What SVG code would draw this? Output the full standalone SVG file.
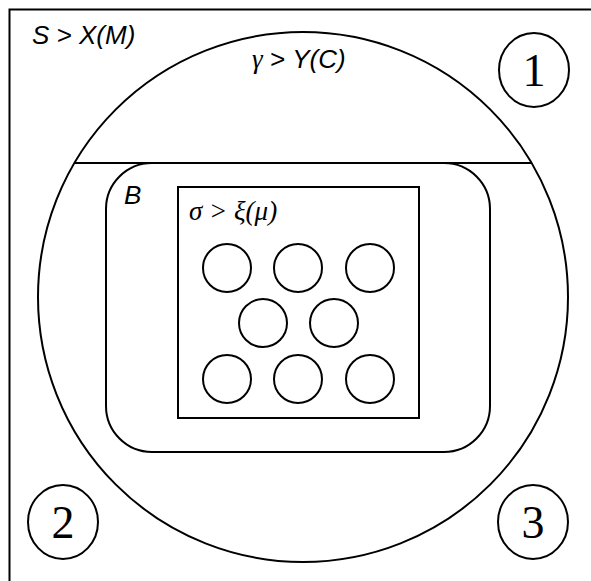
<svg xmlns="http://www.w3.org/2000/svg" width="591" height="581" viewBox="0 0 591 581">
<style>
.s{fill:none;stroke:#000;stroke-width:2}
.sans{font-family:"Liberation Sans",Arial,sans-serif;font-style:italic;font-size:26px;fill:#000}
.serif{font-family:"Liberation Serif","Times New Roman",serif;font-style:italic;font-size:27px;fill:#000}
.num{font-family:"Liberation Serif","Times New Roman",serif;font-size:46px;fill:#000;text-anchor:middle}
</style>
<rect width="591" height="581" fill="#fff"/>
<g id="frame">
<rect class="s" x="9.5" y="9.5" width="620" height="620"/>
<text class="sans" x="32" y="44">S &gt; X(M)</text>
</g>
<g id="world">
<circle class="s" cx="303" cy="297" r="265"/>
<line class="s" x1="74" y1="163" x2="532" y2="163"/>
<text x="252" y="68"><tspan class="serif">γ</tspan><tspan class="sans"> &gt; Y(C)</tspan></text>
</g>
<g id="B">
<path class="s" d="M152,163 H444 A46,46 0 0 1 490,209 V406 A46,46 0 0 1 444,452 H152 A46,46 0 0 1 106,406 V209 A46,46 0 0 1 152,163 Z"/>
<text class="sans" x="124" y="204">B</text>
</g>
<g id="sigma">
<rect class="s" x="178" y="187" width="241" height="231"/>
<text class="serif" x="189" y="220">σ &gt; ξ(μ)</text>
</g>
<g id="particles">
<circle class="s" cx="227" cy="268" r="24"/>
<circle class="s" cx="298" cy="268" r="24"/>
<circle class="s" cx="370" cy="268" r="24"/>
<circle class="s" cx="263" cy="323" r="24"/>
<circle class="s" cx="334" cy="323" r="24"/>
<circle class="s" cx="227" cy="379" r="24"/>
<circle class="s" cx="298" cy="379" r="24"/>
<circle class="s" cx="370" cy="379" r="24"/>
</g>
<g id="n1">
<ellipse class="s" cx="534" cy="70" rx="35" ry="37"/>
<text class="num" x="534" y="86">1</text>
</g>
<g id="n2">
<ellipse class="s" cx="63" cy="522" rx="35" ry="37"/>
<text class="num" x="63" y="538">2</text>
</g>
<g id="n3">
<ellipse class="s" cx="533" cy="522" rx="35" ry="37"/>
<text class="num" x="533" y="538">3</text>
</g>
</svg>
